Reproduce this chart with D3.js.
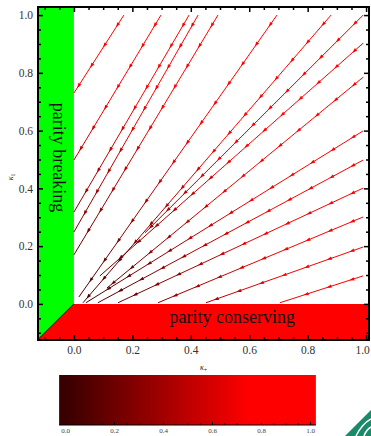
<!DOCTYPE html>
<html>
<head>
<meta charset="utf-8">
<script src="https://cdn.jsdelivr.net/npm/d3@7"></script>
<style>
  body { margin: 0; background: #fff; }
  svg { display: block; }
  text { font-family: "Liberation Serif", "DejaVu Serif", serif; }
</style>
</head>
<body>
<div id="chart"></div>
<script>
// flow lines, [kappa_+, kappa_1] at start and end (arrows point to the end)
const lineStarts = [
  [0.171, 1.0], [0.298, 1.0], [0.394, 1.0], [0.425, 1.0], [0.493, 1.0],
  [0.695, 1.0], [0.880, 1.0], [0.990, 1.0],
  [0.990, 0.903], [0.990, 0.785], [0.990, 0.599], [0.990, 0.498],
  [0.990, 0.401], [0.990, 0.301], [0.990, 0.197], [0.990, 0.097]
];
const lineEnds = [
  [0, 0.730], [0, 0.498], [0, 0.318], [0, 0.249], [0, 0.170],
  [0.017, 0.024], [0.031, 0.004], [0.243, 0.246],
  [0.089, 0.097], [0.113, 0.055], [0.041, 0.004], [0.082, 0.004],
  [0.151, 0.004], [0.288, 0.004], [0.452, 0.004], [0.705, 0.004]
];
const xTicks = [0, 0.2, 0.4, 0.6, 0.8, 1.0];
const yTicks = [0, 0.2, 0.4, 0.6, 0.8, 1.0];
const barTicks = [0, 0.2, 0.4, 0.6, 0.8, 1.0];
const regionLabels = ["parity breaking", "parity conserving"];

const W = 371, H = 436;
const plot = { left: 38, right: 369, top: 7, bottom: 340 };

const svg = d3.select("#chart").append("svg")
  .attr("width", W).attr("height", H);

const x = d3.scaleLinear().domain([-0.123, 1.010]).range([plot.left, plot.right]);
const y = d3.scaleLinear().domain([-0.125, 1.028]).range([plot.bottom, plot.top]);
const [xmin, xmax] = x.domain();
const [ymin, ymax] = y.domain();

// colour map for kappa_+
const cmap = d3.scaleLinear().domain([0, 0.75, 1])
  .range(["#380000", "#ff0000", "#ff0000"]).clamp(true);
const stops = d3.range(0, 1.0001, 0.05);

const defs = svg.append("defs");
const rad = defs.append("radialGradient").attr("id", "rad")
  .attr("gradientUnits", "userSpaceOnUse")
  .attr("cx", x(0)).attr("cy", y(0)).attr("r", x(1) - x(0));
rad.selectAll("stop").data(stops).join("stop")
  .attr("offset", d => d).attr("stop-color", d => cmap(d));

defs.append("clipPath").attr("id", "clip").append("rect")
  .attr("x", plot.left).attr("y", plot.top)
  .attr("width", plot.right - plot.left).attr("height", plot.bottom - plot.top);

const g = svg.append("g").attr("clip-path", "url(#clip)");

// regions
const poly = d3.line().x(d => x(d[0])).y(d => y(d[1]));
g.append("path")
  .attr("d", poly([[xmin, ymax], [0, ymax], [0, 0], [xmin, xmin]]) + "Z")
  .attr("fill", "#00ff00");
g.append("path")
  .attr("d", poly([[xmin, xmin], [0, 0], [xmax, 0], [xmax, ymin], [xmin, ymin]]) + "Z")
  .attr("fill", "#ff0000");
g.append("path")
  .attr("d", poly([[xmin, xmin], [0, 0]]))
  .attr("stroke", "#000").attr("stroke-width", 1).attr("fill", "none");

// flow lines
const flows = lineStarts.map((s, i) => [s, lineEnds[i]]);
g.selectAll(".flow").data(flows).join("path")
  .attr("class", "flow")
  .attr("d", d => poly(d))
  .attr("fill", "none")
  .attr("stroke", "url(#rad)")
  .attr("stroke-width", 1);

// arrow heads along each line
const arrows = [];
flows.forEach(([s, e]) => {
  const x0 = x(s[0]), y0 = y(s[1]), x1 = x(e[0]), y1 = y(e[1]);
  const L = Math.hypot(x1 - x0, y1 - y0);
  const ux = (x1 - x0) / L, uy = (y1 - y0) / L;
  for (let t = 12; t < L - 5; t += 24) {
    const px = x0 + ux * t, py = y0 + uy * t;
    arrows.push([
      [px + ux * 2.5, py + uy * 2.5],
      [px - ux * 2.5 - uy * 1.7, py - uy * 2.5 + ux * 1.7],
      [px - ux * 2.5 + uy * 1.7, py - uy * 2.5 - ux * 1.7]
    ]);
  }
});
g.selectAll(".arrow").data(arrows).join("path")
  .attr("class", "arrow")
  .attr("d", d => "M" + d.map(p => p.join(",")).join("L") + "Z")
  .attr("fill", "url(#rad)");

// region labels
svg.append("text")
  .attr("transform", `translate(${x(-0.072)},${y(0.507)}) rotate(90)`)
  .attr("text-anchor", "middle")
  .attr("font-size", 18).attr("fill", "#111")
  .text(regionLabels[0]);
svg.append("text")
  .attr("x", x(0.542)).attr("y", y(-0.066))
  .attr("text-anchor", "middle")
  .attr("font-size", 18).attr("fill", "#111")
  .text(regionLabels[1]);

// axes with inward ticks on all sides
const fmt = d3.format(".1f");
const notMajor = v => Math.abs(v * 5 - Math.round(v * 5)) > 1e-6;
const xMinor = d3.range(-0.1, 1.0001, 0.05).filter(notMajor);
const yMinor = d3.range(-0.1, 1.0001, 0.05).filter(notMajor);

function styleAxis(sel) {
  sel.select(".domain").remove();
  sel.selectAll("line").attr("stroke", "#000").attr("stroke-width", 1.5);
  sel.selectAll("text").attr("font-family", "Liberation Serif, serif")
    .attr("font-size", 11.5).attr("fill", "#333");
}

const bx = svg.append("g").attr("transform", `translate(0,${plot.bottom})`)
  .call(d3.axisBottom(x).tickValues(xTicks).tickSize(-5).tickPadding(6).tickFormat(fmt))
  .call(styleAxis);
bx.selectAll("text").filter(d => d === 1).attr("dx", -4);
svg.append("g").attr("transform", `translate(0,${plot.bottom})`)
  .call(d3.axisBottom(x).tickValues(xMinor).tickSize(-3).tickFormat(""))
  .call(styleAxis);
svg.append("g").attr("transform", `translate(0,${plot.top})`)
  .call(d3.axisTop(x).tickValues(xTicks).tickSize(-5).tickFormat(""))
  .call(styleAxis);
svg.append("g").attr("transform", `translate(0,${plot.top})`)
  .call(d3.axisTop(x).tickValues(xMinor).tickSize(-3).tickFormat(""))
  .call(styleAxis);
svg.append("g").attr("transform", `translate(${plot.left},0)`)
  .call(d3.axisLeft(y).tickValues(yTicks).tickSize(-5).tickPadding(5).tickFormat(fmt))
  .call(styleAxis);
svg.append("g").attr("transform", `translate(${plot.left},0)`)
  .call(d3.axisLeft(y).tickValues(yMinor).tickSize(-3).tickFormat(""))
  .call(styleAxis);
svg.append("g").attr("transform", `translate(${plot.right},0)`)
  .call(d3.axisRight(y).tickValues(yTicks).tickSize(-5).tickFormat(""))
  .call(styleAxis);
svg.append("g").attr("transform", `translate(${plot.right},0)`)
  .call(d3.axisRight(y).tickValues(yMinor).tickSize(-3).tickFormat(""))
  .call(styleAxis);

svg.append("rect")
  .attr("x", plot.left).attr("y", plot.top)
  .attr("width", plot.right - plot.left).attr("height", plot.bottom - plot.top)
  .attr("fill", "none").attr("stroke", "#000").attr("stroke-width", 2);

// axis titles
const xt = svg.append("text").attr("x", (plot.left + plot.right) / 2).attr("y", 370)
  .attr("text-anchor", "middle").attr("font-size", 8).attr("fill", "#222");
xt.append("tspan").attr("font-style", "italic").text("κ");
xt.append("tspan").attr("font-size", 6).attr("dy", 2).text("+");
const yt = svg.append("text")
  .attr("transform", `translate(13,${y(0.44)}) rotate(-90)`)
  .attr("text-anchor", "middle").attr("font-size", 8).attr("fill", "#222");
yt.append("tspan").attr("font-style", "italic").text("κ");
yt.append("tspan").attr("font-size", 6).attr("dy", 2).text("1");

// colour bar
const cx = d3.scaleLinear().domain([0, 1]).range([65, 310]);
const lin = defs.append("linearGradient").attr("id", "bar")
  .attr("gradientUnits", "userSpaceOnUse")
  .attr("x1", cx(0)).attr("x2", cx(1)).attr("y1", 0).attr("y2", 0);
lin.selectAll("stop").data(stops).join("stop")
  .attr("offset", d => d).attr("stop-color", d => cmap(d));
const barTop = 375, barBottom = 425;
svg.append("rect")
  .attr("x", cx(-0.024)).attr("y", barTop)
  .attr("width", cx(1.024) - cx(-0.024)).attr("height", barBottom - barTop)
  .attr("fill", "url(#bar)");
const barMinor = d3.range(0, 1.0001, 0.05).filter(notMajor);
const ba = svg.append("g").attr("transform", `translate(0,${barBottom})`)
  .call(d3.axisBottom(cx).tickValues(barTicks).tickSize(-3).tickPadding(3).tickFormat(fmt));
ba.select(".domain").remove();
ba.selectAll("line").attr("stroke", "#000");
ba.selectAll("text").attr("font-size", 7).attr("fill", "#444")
  .attr("font-family", "Liberation Serif, serif");
const bm = svg.append("g").attr("transform", `translate(0,${barBottom})`)
  .call(d3.axisBottom(cx).tickValues(barMinor).tickSize(-1.5).tickFormat(""));
bm.select(".domain").remove();
bm.selectAll("line").attr("stroke", "#000");
svg.append("line")
  .attr("x1", cx(-0.024)).attr("x2", cx(1.024))
  .attr("y1", barBottom).attr("y2", barBottom)
  .attr("stroke", "#000").attr("stroke-width", 1);

// corner logo fragment
svg.append("path").attr("d", "M345,436 L371,410 L371,436 Z").attr("fill", "#1b8a6b");
svg.append("path").attr("d", "M356,436 Q362,424 371,419").attr("fill", "none")
  .attr("stroke", "#fff").attr("stroke-width", 1.5);
svg.append("path").attr("d", "M364,436 Q366,430 371,427").attr("fill", "none")
  .attr("stroke", "#fff").attr("stroke-width", 1.5);
</script>
</body>
</html>
